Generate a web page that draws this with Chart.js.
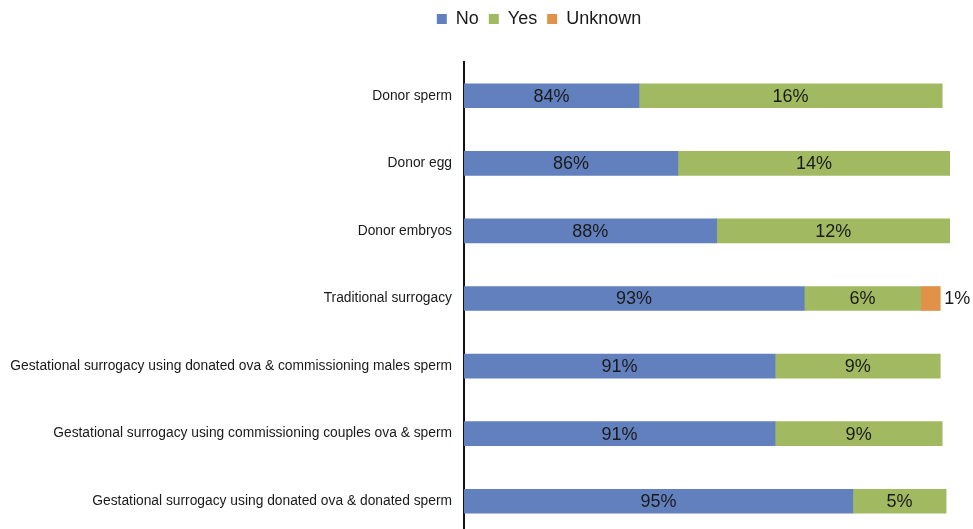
<!DOCTYPE html>
<html lang="en">
<head>
    <meta charset="UTF-8">
    <title>Use of donor gametes and surrogacy</title>
    <script src="https://cdn.jsdelivr.net/npm/chart.js"></script>
    <style>
        html, body { margin: 0; padding: 0; overflow: hidden; background: #fff; }
    </style>
</head>
<body>
    <canvas id="usageChart" width="973" height="535"></canvas>

    <script>
        const categories = [
            'Donor sperm',
            'Donor egg',
            'Donor embryos',
            'Traditional surrogacy',
            'Gestational surrogacy using donated ova & commissioning males sperm',
            'Gestational surrogacy using commissioning couples ova & sperm',
            'Gestational surrogacy using donated ova & donated sperm'
        ];
        const noValues = [84, 86, 88, 92.5, 91, 91, 95];
        const yesValues = [15.6, 14, 12, 6, 8.5, 8.6, 4.8];
        const unknownValues = [null, null, null, 1, null, null, null];

        // push the plot area down below the legend and nudge the legend right
        const legendGap = {
            id: 'legendGap',
            beforeInit(chart) {
                const fit = chart.legend.fit;
                chart.legend.fit = function () {
                    fit.bind(chart.legend)();
                    this.height += 24;
                };
            },
            afterLayout(chart) {
                chart.legend.left += 59;
                chart.legend.right += 59;
            }
        };

        // percentage text inside each segment (or just past it when too narrow)
        const barLabels = {
            id: 'barLabels',
            afterDatasetsDraw(chart) {
                const ctx = chart.ctx;
                const area = chart.chartArea;
                ctx.save();
                ctx.font = '18px "Liberation Sans", Arial, sans-serif';
                ctx.fillStyle = '#1a1a1a';
                ctx.textBaseline = 'middle';
                chart.data.datasets.forEach((ds, i) => {
                    const meta = chart.getDatasetMeta(i);
                    meta.data.forEach((bar, j) => {
                        const v = ds.data[j];
                        if (v == null) return;
                        const text = Math.round(v) + '%';
                        const left = Math.max(Math.min(bar.x, bar.base), area.left);
                        const right = Math.min(Math.max(bar.x, bar.base), area.right);
                        const w = ctx.measureText(text).width;
                        if (right - left > w + 4) {
                            ctx.textAlign = 'center';
                            ctx.fillText(text, (left + right) / 2, bar.y + 1);
                        } else {
                            ctx.textAlign = 'left';
                            ctx.fillText(text, right + 4, bar.y + 1);
                        }
                    });
                });
                ctx.restore();
            }
        };

        const ctx = document.getElementById('usageChart').getContext('2d');
        const chart = new Chart(ctx, {
            type: 'bar',
            data: {
                labels: categories,
                datasets: [
                    { label: 'No', data: noValues, backgroundColor: 'rgb(98, 128, 189)' },
                    { label: 'Yes', data: yesValues, backgroundColor: 'rgb(161, 186, 98)' },
                    { label: 'Unknown', data: unknownValues, backgroundColor: 'rgb(226, 145, 72)' }
                ]
            },
            options: {
                indexAxis: 'y',
                responsive: false,
                animation: false,
                layout: { padding: { left: 10, right: 23, top: 0, bottom: 0 } },
                datasets: { bar: { barThickness: 24 } },
                scales: {
                    x: { stacked: true, min: 75, max: 100, display: false },
                    y: {
                        stacked: true,
                        z: 1,
                        afterFit(scale) {
                            scale.width = 454;
                            scale.paddingTop = 0;
                            scale.paddingBottom = 0;
                        },
                        grid: { display: false, drawTicks: false },
                        border: { display: true, color: '#111', width: 2 },
                        ticks: {
                            autoSkip: false,
                            padding: 12,
                            color: '#1a1a1a',
                            font: { family: '"Liberation Sans", Arial, sans-serif', size: 13.8 }
                        }
                    }
                },
                plugins: {
                    tooltip: { enabled: false },
                    legend: {
                        position: 'top',
                        labels: {
                            boxWidth: 10, boxHeight: 10, padding: 10, color: '#1a1a1a',
                            font: { family: '"Liberation Sans", Arial, sans-serif', size: 18 }
                        }
                    }
                }
            },
            plugins: [legendGap, barLabels]
        });
    </script>
</body>
</html>
